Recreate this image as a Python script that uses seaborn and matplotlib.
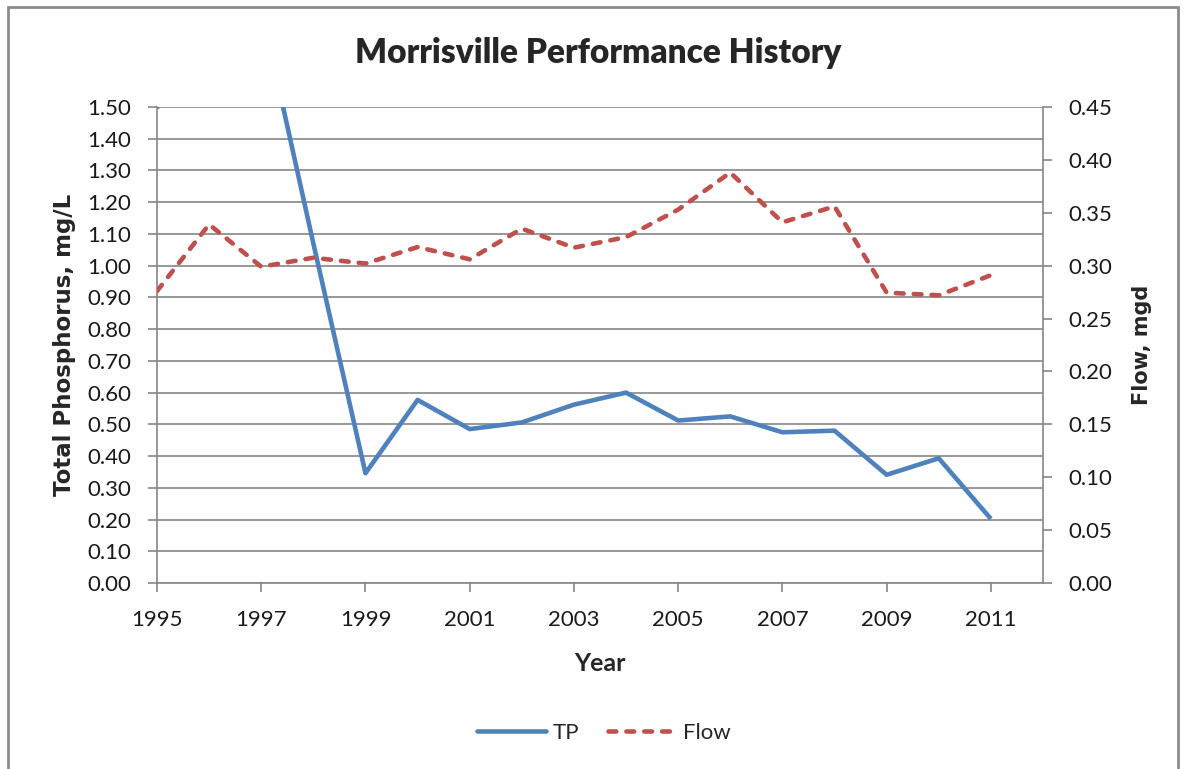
import matplotlib
matplotlib.use("Agg")
import matplotlib.pyplot as plt
import seaborn as sns
import pandas as pd
from matplotlib.lines import Line2D
from matplotlib.patches import Rectangle

years = list(range(1995, 2012))
tp = [1.495, 2.40, 1.81, 1.07, 0.346, 0.577, 0.485, 0.506, 0.562, 0.600,
      0.512, 0.525, 0.475, 0.480, 0.341, 0.393, 0.202]
flow = [0.276, 0.339, 0.299, 0.3075, 0.302, 0.3176, 0.306, 0.335, 0.317, 0.327,
        0.353, 0.388, 0.341, 0.356, 0.2745, 0.272, 0.291]
x_ticks = list(range(1995, 2012, 2))
tp_ticks = [i / 10 for i in range(0, 16)]
flow_ticks = [i * 0.05 for i in range(0, 10)]

sns.set_theme(style="white")
plt.rcParams["font.family"] = ["Lato", "DejaVu Sans"]

df = pd.DataFrame({"Year": years, "TP": tp, "Flow": flow})

BLUE = "#4F81BD"
RED = "#C0504D"
GRID = "#868686"
DASH = (1.7, 2.2)

fig = plt.figure(figsize=(11.84, 7.69), dpi=100)
ax = fig.add_axes([157 / 1184, 1 - 583 / 769, (1043 - 157) / 1184, (583 - 107) / 769])
ax2 = ax.twinx()

sns.lineplot(data=df, x="Year", y="TP", ax=ax, color=BLUE, linewidth=3.3,
             solid_capstyle="butt", solid_joinstyle="round")
sns.lineplot(data=df, x="Year", y="Flow", ax=ax2, color=RED, linewidth=3.3)
ax2.lines[0].set_dashes(DASH)
ax2.lines[0].set_dash_capstyle("round")

ax.set_xlim(1995, 2012)
ax.set_ylim(0, 1.5)
ax2.set_ylim(0, 0.45)
ax.set_xticks(x_ticks)
ax.set_xticklabels([str(y) for y in x_ticks])
ax.set_yticks(tp_ticks)
ax.set_yticklabels([f"{v:.2f}" for v in tp_ticks])
ax2.set_yticks(flow_ticks)
ax2.set_yticklabels([f"{v:.2f}" for v in flow_ticks])

ax.grid(axis="y", color=GRID, linewidth=1.2)
ax.set_axisbelow(True)
for a in (ax, ax2):
    for s in a.spines.values():
        s.set_color(GRID)
        s.set_linewidth(1.2)
    a.spines["top"].set_visible(False)
ax.spines["right"].set_visible(False)
ax2.spines["left"].set_visible(False)
ax2.spines["bottom"].set_visible(False)

tick_kw = dict(direction="out", length=6.5, width=1.2, color=GRID, labelsize=16,
               labelcolor="#1a1a1a")
ax.tick_params(axis="y", left=True, pad=12, **tick_kw)
ax.tick_params(axis="x", bottom=True, pad=13, **tick_kw)
ax2.tick_params(axis="y", right=True, pad=12, **tick_kw)

ax.set_xlabel("Year", fontsize=18, fontweight="bold", labelpad=16)
ax.set_ylabel("Total Phosphorus, mg/L", fontsize=16.5, fontweight="bold",
              family="DejaVu Sans", labelpad=8)
ax2.set_ylabel("Flow, mgd", fontsize=15, fontweight="bold", family="DejaVu Sans",
               labelpad=14)

fig.text(598 / 1184, 1 - 63 / 769, "Morrisville Performance History",
         ha="center", va="baseline", fontsize=24, fontweight="heavy")

handles = [Line2D([], [], color=BLUE, linewidth=3.3),
           Line2D([], [], color=RED, linewidth=3.3, dashes=DASH,
                  dash_capstyle="round")]
fig.legend(handles, ["TP", "Flow"], loc="center", bbox_to_anchor=(604 / 1184, 1 - 733 / 769),
           ncol=2, frameon=False, fontsize=16, handlelength=3.1, handletextpad=0.3,
           columnspacing=1.3)

fig.patches.append(Rectangle((8 / 1184, -0.01), (1178 - 8) / 1184, 1 - 7 / 769 + 0.01,
                             transform=fig.transFigure, fill=False,
                             edgecolor="#8c8c8c", linewidth=2))

fig.savefig("out.png", dpi=100)
